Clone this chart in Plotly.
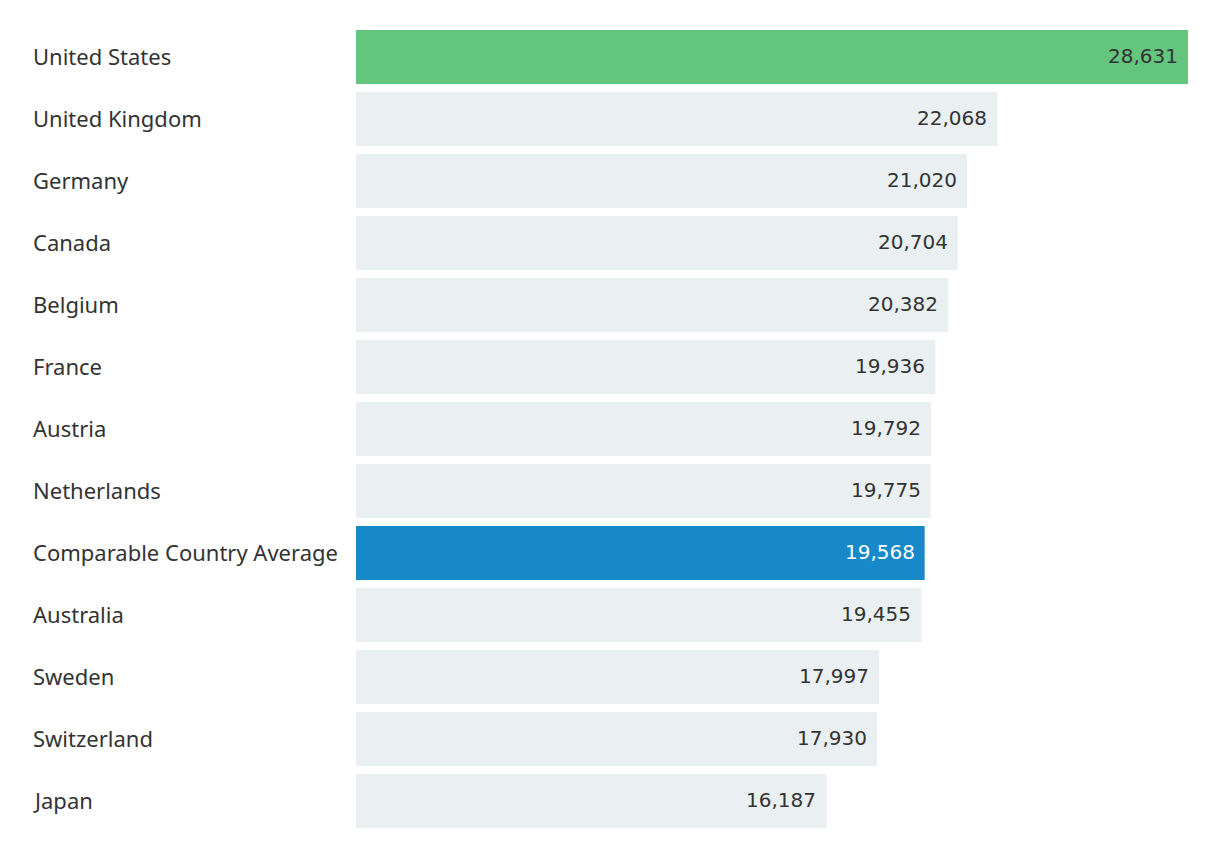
import plotly.graph_objects as go

countries = ["United States", "United Kingdom", "Germany", "Canada", "Belgium", "France",
             "Austria", "Netherlands", "Comparable Country Average", "Australia", "Sweden",
             "Switzerland", "Japan"]
values = [28631, 22068, 21020, 20704, 20382, 19936, 19792, 19775, 19568, 19455, 17997, 17930, 16187]

GREEN = "#64C57F"
BLUE = "#1789C9"
GRAY = "#EAEFF1"
TEXT = "#333333"

colors = []
text_colors = []
for c in countries:
    if c == "United States":
        colors.append(GREEN); text_colors.append(TEXT)
    elif c == "Comparable Country Average":
        colors.append(BLUE); text_colors.append("#FFFFFF")
    else:
        colors.append(GRAY); text_colors.append(TEXT)

fig = go.Figure(go.Bar(
    x=values, y=countries, orientation="h",
    marker=dict(color=colors, line=dict(width=0)),
    hoverinfo="skip",
))

annotations = []
for c, v, tc in zip(countries, values, text_colors):
    annotations.append(dict(
        x=-325/832, xref="paper", y=c, yref="y", text=c, showarrow=False,
        xanchor="left", yanchor="middle", yshift=1,
        font=dict(size=22, color=TEXT, family="Noto Sans"),
    ))
    annotations.append(dict(
        x=v, xref="x", y=c, yref="y", text=f"{v:,}", showarrow=False,
        xanchor="right", yanchor="middle", xshift=-8, yshift=1,
        font=dict(size=20, color=tc, family="DejaVu Sans"),
    ))

fig.update_layout(
    width=1212, height=850,
    margin=dict(l=348, r=32, t=18, b=26),
    paper_bgcolor="white", plot_bgcolor="white",
    bargap=0.13,
    showlegend=False,
    xaxis=dict(range=[0, 28631], visible=False, fixedrange=True),
    yaxis=dict(autorange="reversed", showticklabels=False, showgrid=False,
               zeroline=False, ticks="", fixedrange=True),
    annotations=annotations,
)

fig.write_html("out.html")
